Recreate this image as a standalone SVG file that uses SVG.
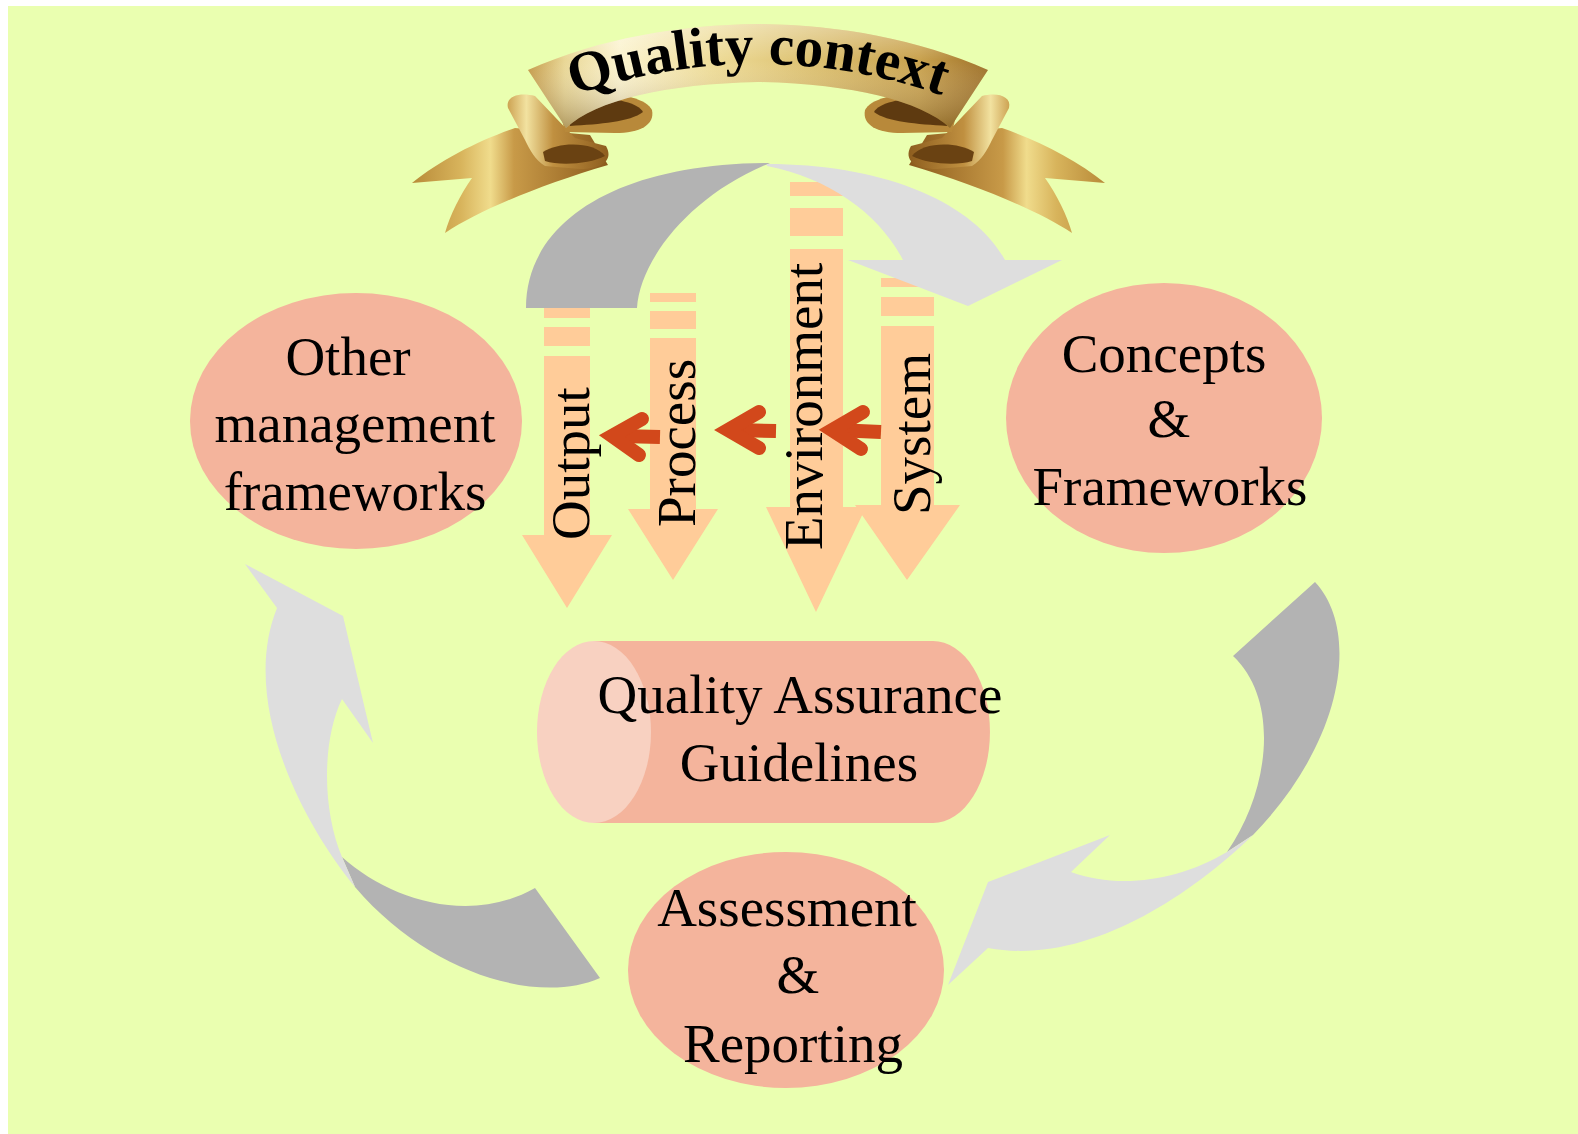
<svg xmlns="http://www.w3.org/2000/svg" xmlns:xlink="http://www.w3.org/1999/xlink" width="1578" height="1134" viewBox="0 0 1578 1134">
<style>
.node{fill:#F4B49C}
.lbl{font-family:"Liberation Serif","Times New Roman",serif;font-size:55px;fill:#000;text-anchor:middle}
.vl{font-family:"Liberation Serif","Times New Roman",serif;font-size:55px;fill:#000}
.pe{fill:#FFCC99}
.dg{fill:#B3B3B3}
.lg{fill:#DEDEDE}
.rs{stroke:#D2481B;stroke-width:14;fill:none;stroke-linecap:butt}
.rc{stroke:#D2481B;stroke-width:14;fill:none;stroke-linecap:round;stroke-linejoin:miter;stroke-miterlimit:10}
</style>
<defs>
<linearGradient id="gBand" gradientUnits="userSpaceOnUse" x1="528" y1="0" x2="988" y2="0">
<stop offset="0" stop-color="#C49A48"/><stop offset="0.08" stop-color="#E9D796"/><stop offset="0.2" stop-color="#FBF3CF"/><stop offset="0.4" stop-color="#EEDC98"/><stop offset="0.62" stop-color="#DCC070"/><stop offset="0.85" stop-color="#C9A24E"/><stop offset="1" stop-color="#9E7028"/>
</linearGradient>
<linearGradient id="gShade" gradientUnits="userSpaceOnUse" x1="0" y1="24" x2="0" y2="128">
<stop offset="0" stop-color="#FFFFFF" stop-opacity="0.35"/><stop offset="0.35" stop-color="#FFFFFF" stop-opacity="0"/><stop offset="1" stop-color="#5A3A0A" stop-opacity="0.4"/>
</linearGradient>
<linearGradient id="gTail" gradientUnits="userSpaceOnUse" x1="412" y1="0" x2="608" y2="0">
<stop offset="0" stop-color="#B88A38"/><stop offset="0.25" stop-color="#D8B45C"/><stop offset="0.4" stop-color="#F0DC8C"/><stop offset="0.52" stop-color="#C89A48"/><stop offset="0.78" stop-color="#A87830"/><stop offset="1" stop-color="#8A5A1C"/>
</linearGradient>
<linearGradient id="gRoll" gradientUnits="userSpaceOnUse" x1="505" y1="0" x2="612" y2="0">
<stop offset="0" stop-color="#C89A48"/><stop offset="0.2" stop-color="#F2E2A0"/><stop offset="0.45" stop-color="#C09040"/><stop offset="1" stop-color="#8A5A1C"/>
</linearGradient>
<path id="tpath" d="M572,96 Q758,32 944,96"/>
<g id="ribbonSide">
<path d="M515,128 C480,140 440,160 412,183 L472,178 C460,195 450,215 445,233 C480,210 540,185 608,165 L590,135 Z" fill="url(#gTail)"/>
<path d="M508,108 C505,96 520,92 535,96 L575,138 L606,146 C614,160 602,169 580,169 L545,166 C535,160 530,150 525,140 Z" fill="url(#gRoll)"/>
<path d="M543,152 C560,141 595,142 605,156 C590,164 560,166 545,161 Z" fill="#6A4212"/>
<path d="M556,96 C600,88 645,95 652,110 C655,125 640,133 615,133 L565,132 Z" fill="#B8893A"/>
<path d="M566,100 C600,95 636,100 643,112 C630,122 600,124 570,126 Z" fill="#5E3A10"/>
</g>
</defs>

<rect x="8" y="6" width="1570" height="1128" fill="#EAFFB0"/>

<g id="factor-arrows">
<g id="arrow-output">
<rect class="pe" x="544" y="308" width="46" height="10"/>
<rect class="pe" x="544" y="327" width="46" height="19"/>
<path class="pe" d="M544,356 L590,356 L590,535 L612,535 L567,608 L522,535 L544,535 Z"/>
<text class="vl" transform="translate(589,540) rotate(-90)">Output</text>
</g>
<g id="arrow-process">
<rect class="pe" x="650" y="293" width="46" height="9"/>
<rect class="pe" x="650" y="311" width="46" height="18"/>
<path class="pe" d="M650,338 L696,338 L696,509 L718,509 L673,580 L628,509 L650,509 Z"/>
<text class="vl" transform="translate(695,527) rotate(-90)">Process</text>
</g>
<g id="arrow-environment">
<rect class="pe" x="790" y="182" width="53" height="14"/>
<rect class="pe" x="790" y="208" width="53" height="28"/>
<path class="pe" d="M790,249 L843,249 L843,507 L866,507 L816,612 L766,507 L790,507 Z"/>
<text class="vl" transform="translate(822,550) rotate(-90)">Environment</text>
</g>
<g id="arrow-system">
<rect class="pe" x="881" y="278" width="53" height="9"/>
<rect class="pe" x="881" y="297" width="53" height="19"/>
<path class="pe" d="M881,326 L934,326 L934,505 L960,505 L907,580 L855,505 L881,505 Z"/>
<text class="vl" transform="translate(930,515) rotate(-90)">System</text>
</g>
</g>

<g id="connectors">
<path class="dg" d="M526,308 C526,220 620,163 770,163 C690,195 640,260 637,308 Z"/>
<path class="lg" d="M767,164 C880,164 972,200 1005,260 L1062,260 L968,306 L848,260 L903,260 C880,215 830,178 767,166 Z"/>
<path class="dg" d="M1315,582 C1360,630 1345,740 1253,835 L1227,852 C1270,790 1280,700 1233,656 Z"/>
<path class="lg" d="M1253,835 C1180,905 1080,965 988,948 L948,985 L988,882 L1110,835 L1071,872 C1120,890 1180,880 1227,852 Z"/>
<path class="dg" d="M342,857 C390,900 470,925 535,888 L600,978 C540,1005 430,975 355,887 Z"/>
<path class="lg" d="M355,887 C300,820 240,700 277,608 L245,564 L343,616 L373,743 L342,699 C322,740 322,810 342,857 Z"/>
<g id="red-arrows">
<path class="rs" d="M881,432 L836,430"/>
<path class="rc" d="M863,412 L832,430 L861,449"/>
<path class="rs" d="M776,431 L735,430"/>
<path class="rc" d="M759,412 L728,430 L759,448"/>
<path class="rs" d="M660,437 L620,436"/>
<path class="rc" d="M642,419 L612,436 L639,455"/>
</g>
</g>

<g id="banner">
<use xlink:href="#ribbonSide"/>
<use xlink:href="#ribbonSide" transform="matrix(-1 0 0 1 1517 0)"/>
<path d="M528,70 C600,38 680,25 758,24 C836,25 916,38 988,70 L950,128 C920,100 850,84 758,82 C666,84 596,100 566,128 Z" fill="url(#gBand)"/>
<path d="M528,70 C600,38 680,25 758,24 C836,25 916,38 988,70 L950,128 C920,100 850,84 758,82 C666,84 596,100 566,128 Z" fill="url(#gShade)"/>
<text font-family="Liberation Serif, Times New Roman, serif" font-weight="bold" font-size="57" fill="#000" text-anchor="middle"><textPath xlink:href="#tpath" startOffset="50%">Quality context</textPath></text>
</g>

<g id="node-other">
<ellipse class="node" cx="356" cy="421" rx="166" ry="128"/>
<text class="lbl" x="348" y="375">Other</text>
<text class="lbl" x="355" y="442">management</text>
<text class="lbl" x="355" y="510">frameworks</text>
</g>

<g id="node-concepts">
<ellipse class="node" cx="1164" cy="418" rx="158" ry="135"/>
<text class="lbl" x="1164" y="372">Concepts</text>
<text class="lbl" x="1169" y="437">&amp;</text>
<text class="lbl" x="1170" y="505">Frameworks</text>
</g>

<g id="node-quality-assurance">
<path class="node" d="M594,641 L933,641 A57,91 0 0 1 933,823 L594,823 Z"/>
<ellipse cx="594" cy="732" rx="57" ry="91" fill="#F8D1C1"/>
<text class="lbl" x="800" y="713">Quality Assurance</text>
<text class="lbl" x="799" y="781">Guidelines</text>
</g>

<g id="node-assessment">
<ellipse class="node" cx="786" cy="970" rx="158" ry="118"/>
<text class="lbl" x="787" y="926">Assessment</text>
<text class="lbl" x="798" y="993">&amp;</text>
<text class="lbl" x="793" y="1062">Reporting</text>
</g>
</svg>
